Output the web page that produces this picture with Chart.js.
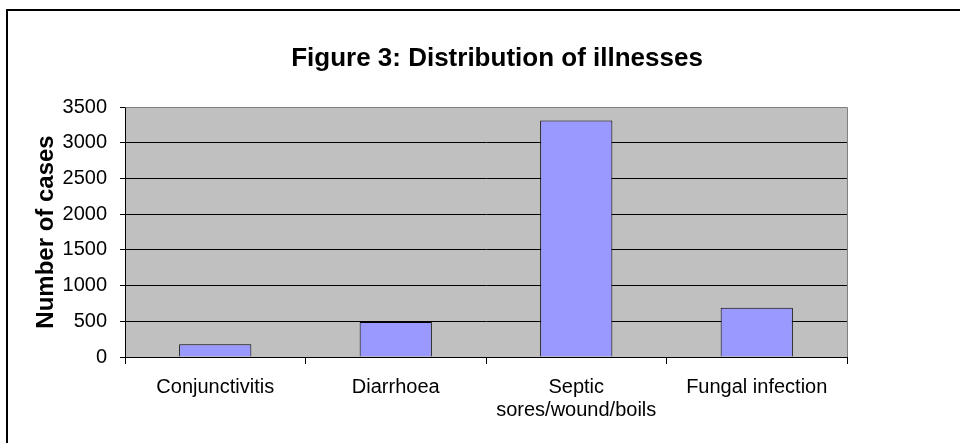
<!DOCTYPE html>
<html>
<head>
<meta charset="utf-8">
<script src="https://cdn.jsdelivr.net/npm/chart.js@4/dist/chart.umd.min.js"></script>
<style>
  html, body { margin: 0; padding: 0; background: #fff; }
  #wrap { width: 960px; height: 443px; }
</style>
</head>
<body>
<div id="wrap"><canvas id="c" width="960" height="443"></canvas></div>
<script>
const categories = ['Conjunctivitis', 'Diarrhoea', ['Septic', 'sores/wound/boils'], 'Fungal infection'];
const cases = [180, 490, 3310, 690];
const yTicks = [0, 500, 1000, 1500, 2000, 2500, 3000, 3500];
const chartTitle = 'Figure 3: Distribution of illnesses';
const yAxisTitle = 'Number of cases';

const FONT = "'Liberation Sans', Arial, sans-serif";

const framePlugin = {
  id: 'frame',
  beforeDraw(chart) {
    const ctx = chart.ctx;
    const a = chart.chartArea;
    ctx.save();
    ctx.fillStyle = '#ffffff';
    ctx.fillRect(0, 0, chart.width, chart.height);
    // outer frame (cropped at right / bottom)
    ctx.strokeStyle = '#000000';
    ctx.lineWidth = 2;
    ctx.beginPath();
    ctx.moveTo(7, chart.height + 5);
    ctx.lineTo(7, 10);
    ctx.lineTo(chart.width + 5, 10);
    ctx.stroke();
    // plot background
    ctx.fillStyle = '#C0C0C0';
    ctx.fillRect(a.left, a.top, a.right - a.left, a.bottom - a.top);
    ctx.restore();
  },
  beforeDatasetsDraw(chart) {
    const ctx = chart.ctx;
    const a = chart.chartArea;
    ctx.save();
    ctx.strokeStyle = '#808080';
    ctx.lineWidth = 1;
    ctx.beginPath();
    ctx.moveTo(Math.round(a.left) + 0.5, Math.round(a.top) + 0.5);
    ctx.lineTo(Math.round(a.right) + 0.5, Math.round(a.top) + 0.5);
    ctx.lineTo(Math.round(a.right) + 0.5, Math.round(a.bottom));
    ctx.stroke();
    ctx.restore();
  }
};

new Chart(document.getElementById('c'), {
  type: 'bar',
  data: {
    labels: categories,
    datasets: [{
      data: cases,
      yAxisID: 'y',
      backgroundColor: '#9999FF',
      borderColor: '#000000',
      borderWidth: 1,
      barPercentage: 0.4,
      categoryPercentage: 1.0
    }]
  },
  plugins: [framePlugin],
  options: {
    responsive: false,
    devicePixelRatio: 1,
    animation: false,
    layout: { padding: { left: 34, right: 0, top: 0, bottom: 0 } },
    plugins: {
      legend: { display: false },
      tooltip: { enabled: false },
      title: {
        display: true,
        text: chartTitle,
        color: '#000',
        font: { family: FONT, size: 26, weight: 'bold', lineHeight: 1.2 },
        padding: { top: 43.4, bottom: 32.4 }
      }
    },
    scales: {
      x: {
        afterFit(scale) { scale.height = 86; },
        grid: {
          display: true,
          drawOnChartArea: false,
          drawTicks: true,
          tickLength: 7,
          tickColor: '#000',
          offset: true
        },
        border: { display: true, color: '#000', width: 1 },
        ticks: {
          color: '#000',
          font: { family: FONT, size: 20, lineHeight: 1.15 },
          padding: 12,
          maxRotation: 0,
          autoSkip: false
        }
      },
      y: {
        position: 'left',
        min: 0,
        max: 3500,
        afterFit(scale) { scale.width = 91; },
        afterBuildTicks(scale) { scale.ticks = yTicks.map(v => ({ value: v })); },
        grid: {
          color: (c) => (c.tick && c.tick.value === 3500 ? '#808080' : '#000'),
          lineWidth: 1,
          drawTicks: true,
          tickLength: 5,
          tickColor: '#000'
        },
        border: { display: true, color: '#000', width: 1 },
        ticks: {
          color: '#000',
          font: { family: FONT, size: 20 },
          padding: 13,
          callback: (v) => String(v)
        },
        title: {
          display: true,
          text: yAxisTitle,
          color: '#000',
          font: { family: FONT, size: 24, weight: 'bold', lineHeight: 1.0 },
          padding: { top: 0, bottom: 0 }
        }
      },
      yRight: {
        type: 'linear',
        position: 'right',
        display: true,
        afterFit(scale) { scale.width = 113; },
        grid: { display: false, drawTicks: false },
        border: { display: false },
        ticks: { display: false }
      }
    }
  }
});
</script>
</body>
</html>
